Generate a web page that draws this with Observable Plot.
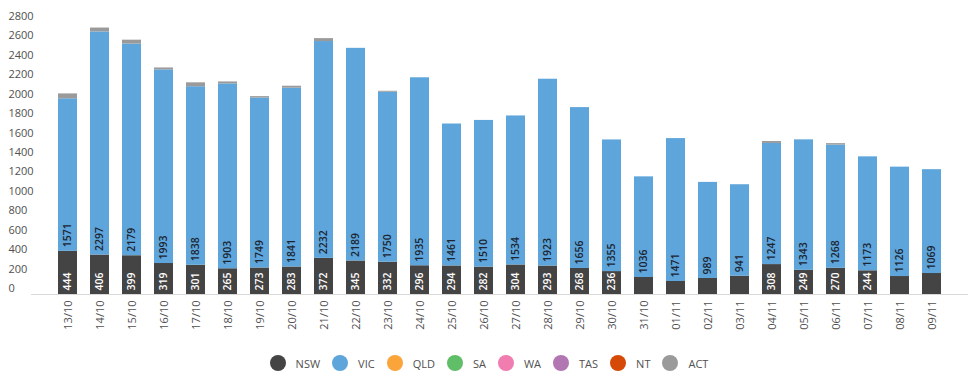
<!DOCTYPE html>
<html>
<head>
<meta charset="utf-8">
<script src="https://cdn.jsdelivr.net/npm/d3@7"></script>
<script src="https://cdn.jsdelivr.net/npm/@observablehq/plot@0.6"></script>
<style>
  html, body { margin: 0; padding: 0; background: #fff; }
  body { width: 978px; height: 378px; overflow: hidden; font-family: "Open Sans", sans-serif; }
  #legend { display: flex; justify-content: center; align-items: center; height: 36px; font-size: 11px; color: #505050; }
  .item { display: flex; align-items: center; margin: 0 6px; }
  .dot { width: 16px; height: 16px; border-radius: 50%; margin-right: 10px; }
</style>
</head>
<body>
<div id="chart"></div>
<div id="legend"></div>
<script>
const dates = ["13/10","14/10","15/10","16/10","17/10","18/10","19/10","20/10","21/10","22/10","23/10","24/10","25/10","26/10","27/10","28/10","29/10","30/10","31/10","01/11","02/11","03/11","04/11","05/11","06/11","07/11","08/11","09/11"];
const states = ["NSW","VIC","QLD","SA","WA","TAS","NT","ACT"];
const stateColors = ["#444444","#5da5da","#faa43a","#60bd68","#f17cb0","#b276b2","#d64a07","#9a9a9a"];
const nsw = [444,406,399,319,301,265,273,283,372,345,332,296,294,282,304,293,268,236,175,134,165,189,308,249,270,244,185,216];
const vic = [1571,2297,2179,1993,1838,1903,1749,1841,2232,2189,1750,1935,1461,1510,1534,1923,1656,1355,1036,1471,989,941,1247,1343,1268,1173,1126,1069];
const qld = [0,0,0,0,0,0,0,0,0,0,0,0,0,0,0,0,0,0,0,0,0,0,0,0,0,0,0,0];
const sa  = [0,0,0,0,0,0,0,0,0,0,0,0,0,0,0,0,0,0,0,0,0,0,0,0,0,0,0,0];
const wa  = [0,0,0,0,0,0,0,0,0,0,0,0,0,0,0,0,0,0,0,0,0,0,0,0,0,0,0,0];
const tas = [0,0,0,0,0,0,0,0,0,0,0,0,0,0,0,0,0,0,0,0,0,0,0,0,0,0,0,0];
const nt  = [0,0,0,0,0,0,0,0,0,0,0,0,0,0,0,0,0,0,0,0,0,0,0,0,0,0,0,0];
const act = [50,40,40,20,40,20,15,20,30,0,10,0,0,0,0,0,0,0,0,0,0,0,20,0,15,0,0,0];
const yTicks = [0,200,400,600,800,1000,1200,1400,1600,1800,2000,2200,2400,2600,2800];

const series = [nsw, vic, qld, sa, wa, tas, nt, act];
const rows = [];
dates.forEach((d, i) => {
  states.forEach((s, j) => rows.push({date: d, state: s, value: series[j][i]}));
});
const nswLabels = dates.map((d, i) => ({date: d, value: nsw[i]})).filter(r => r.value >= 230);
const vicLabels = dates.map((d, i) => ({date: d, base: nsw[i], value: vic[i]}));

const font = "Open Sans, sans-serif";
const chart = Plot.plot({
  width: 978,
  height: 345,
  marginLeft: 31,
  marginRight: 10,
  marginTop: 22,
  marginBottom: 51,
  style: {fontFamily: font, background: "#fff"},
  x: {domain: dates, padding: 0.4, label: null},
  y: {domain: [0, 2800], label: null},
  color: {domain: states, range: stateColors},
  marks: [
    Plot.barY(rows, {x: "date", y: "value", fill: "state", order: null}),
    Plot.ruleY([0], {stroke: "#d9d9d9", strokeWidth: 1}),
    Plot.text(nswLabels, {x: "date", y: 0, text: d => String(d.value), rotate: -90, textAnchor: "start", dy: -4, fill: "#ffffff", fontSize: 10.5, fontWeight: 600, fontFamily: font}),
    Plot.text(vicLabels, {x: "date", y: "base", text: d => String(d.value), rotate: -90, textAnchor: "start", dy: -4, fill: "#1d2430", fontSize: 10.5, fontWeight: 600, fontFamily: font}),
    Plot.axisY({ticks: yTicks, tickFormat: d => String(d), tickSize: 0, tickPadding: 3, textAnchor: "start", dx: -20, dy: -6, fontSize: 11, fill: "#505050", label: null}),
    Plot.axisX({tickRotate: -90, tickSize: 0, tickPadding: 6, fontSize: 11, fill: "#505050", label: null})
  ]
});
document.getElementById("chart").appendChild(chart);

const legend = document.getElementById("legend");
states.forEach((s, j) => {
  const item = document.createElement("div");
  item.className = "item";
  const dot = document.createElement("span");
  dot.className = "dot";
  dot.style.background = stateColors[j];
  const lab = document.createElement("span");
  lab.textContent = s;
  item.appendChild(dot);
  item.appendChild(lab);
  legend.appendChild(item);
});
</script>
</body>
</html>
